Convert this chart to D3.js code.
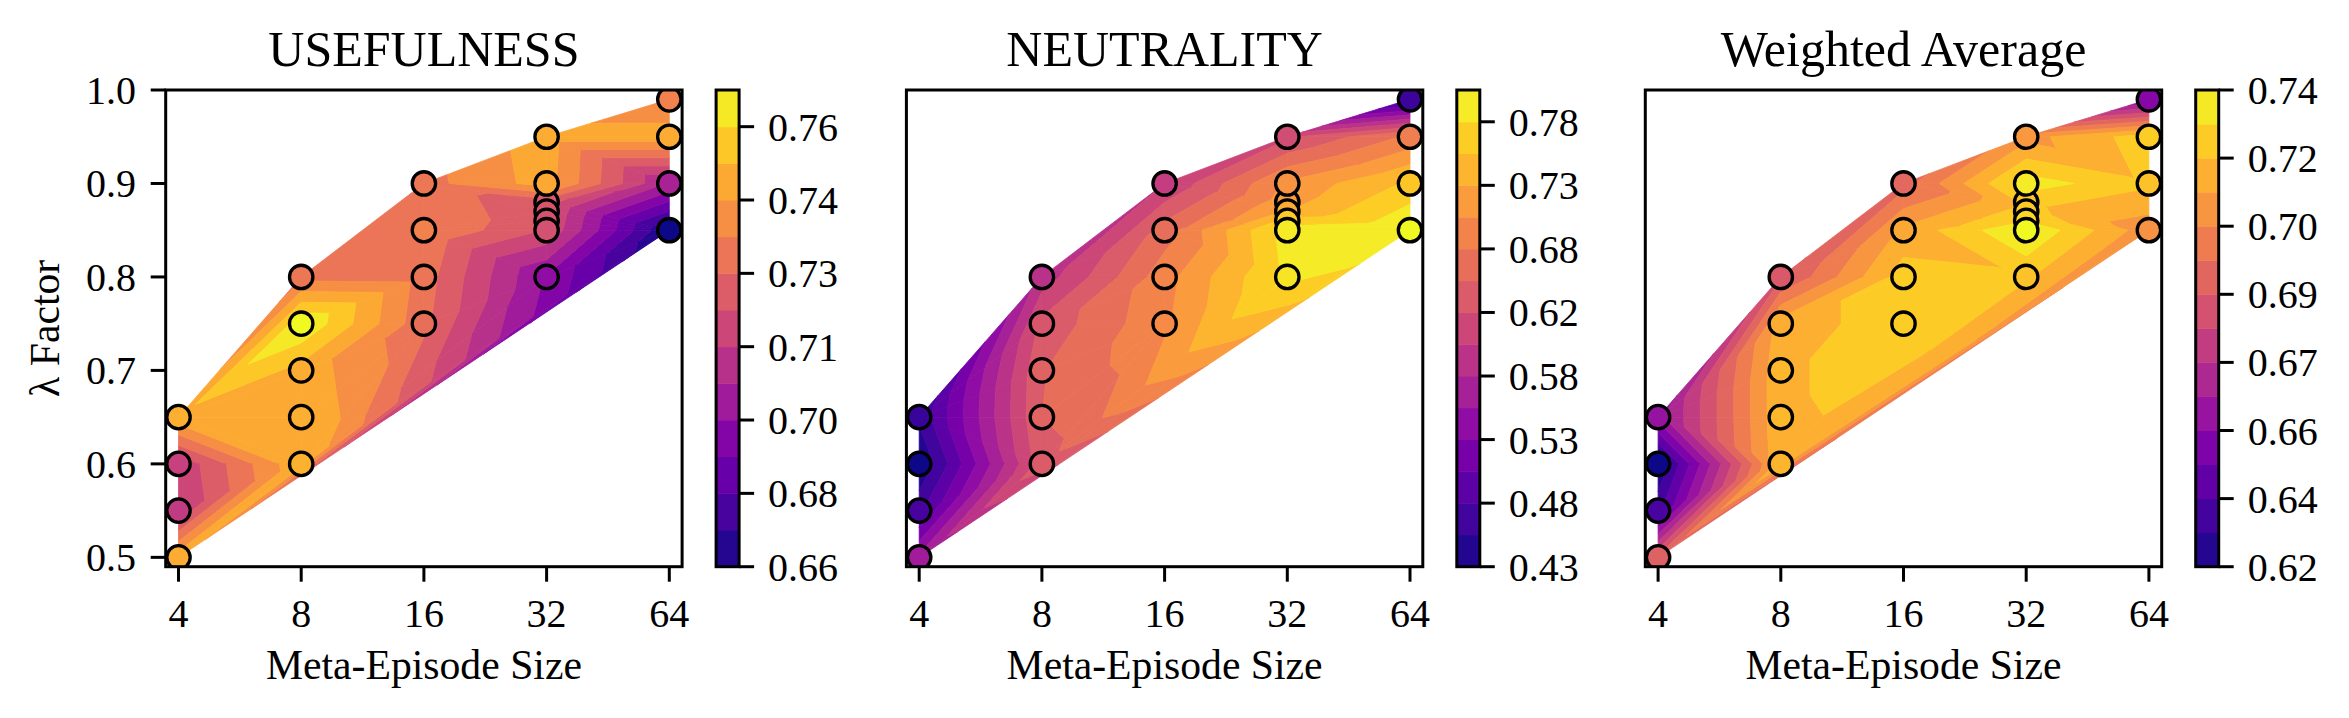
<!DOCTYPE html>
<html>
<head>
<meta charset="utf-8">
<script src="https://cdn.jsdelivr.net/npm/d3@7"></script>
<style>
  body { margin: 0; background: #fff; }
</style>
</head>
<body>
<svg id="chart" width="2349" height="718"></svg>
<script>
// one entry per run: meta-episode size and lambda factor
var sizes   = [4, 4, 4, 4,  8, 8, 8, 8, 8,  16, 16, 16, 16,  32, 32, 32, 32, 32, 32, 32,  64, 64, 64, 64];
var lambdas = [0.50, 0.55, 0.60, 0.65,  0.60, 0.65, 0.70, 0.75, 0.80,  0.75, 0.80, 0.85, 0.90,
               0.80, 0.88, 0.87, 0.86, 0.85, 0.90, 0.95,  0.85, 0.90, 0.95, 0.99];

// scores
var usefulness = [0.750, 0.712, 0.714, 0.751,  0.752, 0.751, 0.750, 0.770, 0.734,  0.731, 0.733, 0.737, 0.734,
                  0.695, 0.724, 0.722, 0.721, 0.720, 0.749, 0.750,  0.663, 0.703, 0.750, 0.737];
var neutrality = [0.556, 0.468, 0.425, 0.455,  0.640, 0.650, 0.648, 0.632, 0.585,  0.695, 0.690, 0.662, 0.600,
                  0.782, 0.715, 0.730, 0.760, 0.787, 0.705, 0.620,  0.800, 0.755, 0.680, 0.458];
var weighted   = [0.690, 0.636, 0.622, 0.659,  0.719, 0.720, 0.720, 0.717, 0.687,  0.726, 0.726, 0.715, 0.693,
                  0.723, 0.724, 0.725, 0.729, 0.738, 0.734, 0.710,  0.708, 0.723, 0.726, 0.654];

var xTicks = [4, 8, 16, 32, 64];
var yTicks = [0.5, 0.6, 0.7, 0.8, 0.9, 1.0];

// colorbar labels (every second contour level)
var cbLabelsU = ["0.66", "0.68", "0.70", "0.71", "0.73", "0.74", "0.76"];
var cbLabelsN = ["0.43", "0.48", "0.53", "0.58", "0.62", "0.68", "0.73", "0.78"];
var cbLabelsW = ["0.62", "0.64", "0.66", "0.67", "0.69", "0.70", "0.72", "0.74"];

var panels = [
  { title: "USEFULNESS",       values: usefulness, nLevels: 14, cbLabels: cbLabelsU },
  { title: "NEUTRALITY",       values: neutrality, nLevels: 16, cbLabels: cbLabelsN },
  { title: "Weighted Average", values: weighted,   nLevels: 15, cbLabels: cbLabelsW }
];

// layout (px)
var axLeft = [165.7, 906.4, 1645.3];
var W = 516.4, TOP = 90, H = 476.7;
var xPad = 0.1043;            // octaves of margin on each side
var font = "'Liberation Serif', 'Times New Roman', serif";

var svg = d3.select("#chart");

// keep the part of a polygon where sign*(v - level) >= 0
function clipBy(poly, level, sign) {
  var out = [];
  for (var i = 0; i < poly.length; i++) {
    var a = poly[i], b = poly[(i + 1) % poly.length];
    var da = sign * (a[2] - level), db = sign * (b[2] - level);
    if (da >= 0) out.push(a);
    if ((da >= 0) !== (db >= 0)) {
      var t = da / (da - db);
      out.push([a[0] + t * (b[0] - a[0]), a[1] + t * (b[1] - a[1]), level]);
    }
  }
  return out;
}

// triangulate once, in (log2 size, lambda) space
var idx = d3.range(sizes.length);
var del = d3.Delaunay.from(idx, function(k){ return Math.log2(sizes[k]); }, function(k){ return lambdas[k]; });
var tris = del.triangles;

panels.forEach(function(p, pi) {
  var L = axLeft[pi];
  var x = d3.scaleLog().base(2)
    .domain([4 / Math.pow(2, xPad), 64 * Math.pow(2, xPad)])
    .range([L, L + W]);
  var y = d3.scaleLinear().domain([0.49, 1.0]).range([TOP + H, TOP]);

  var vmin = d3.min(p.values), vmax = d3.max(p.values);
  var levels = d3.range(p.nLevels).map(function(k){ return vmin + (vmax - vmin) * k / (p.nLevels - 1); });
  var bandColor = function(k){ return d3.interpolatePlasma((k + 0.5) / (p.nLevels - 1)); };
  var pointColor = function(v){ return d3.interpolatePlasma((v - vmin) / (vmax - vmin)); };

  var clipId = "clip" + pi;
  svg.append("clipPath").attr("id", clipId)
    .append("rect").attr("x", L).attr("y", TOP).attr("width", W).attr("height", H);

  var g = svg.append("g").attr("clip-path", "url(#" + clipId + ")");

  // filled contours, band by band inside every triangle
  var gc = g.append("g");
  for (var t = 0; t < tris.length; t += 3) {
    var poly = [tris[t], tris[t + 1], tris[t + 2]].map(function(k){
      return [x(sizes[k]), y(lambdas[k]), p.values[k]];
    });
    for (var k = 0; k < p.nLevels - 1; k++) {
      var piece = clipBy(clipBy(poly, levels[k], 1), levels[k + 1], -1);
      if (piece.length < 3) continue;
      var col = bandColor(k);
      gc.append("path")
        .attr("d", "M" + piece.map(function(q){ return q[0] + "," + q[1]; }).join("L") + "Z")
        .attr("fill", col)
        .attr("stroke", col)
        .attr("stroke-width", 0.8)
        .attr("stroke-linejoin", "round");
    }
  }

  // markers
  g.append("g").selectAll("circle")
    .data(idx)
    .join("circle")
    .attr("cx", function(k){ return x(sizes[k]); })
    .attr("cy", function(k){ return y(lambdas[k]); })
    .attr("r", 11.7)
    .attr("fill", function(k){ return pointColor(p.values[k]); })
    .attr("stroke", "#000")
    .attr("stroke-width", 3.3);

  // frame
  svg.append("rect")
    .attr("x", L).attr("y", TOP).attr("width", W).attr("height", H)
    .attr("fill", "none").attr("stroke", "#000").attr("stroke-width", 3);

  // x ticks
  var gx = svg.append("g");
  xTicks.forEach(function(v) {
    gx.append("line")
      .attr("x1", x(v)).attr("x2", x(v))
      .attr("y1", TOP + H).attr("y2", TOP + H + 15)
      .attr("stroke", "#000").attr("stroke-width", 3);
    gx.append("text")
      .attr("x", x(v)).attr("y", 627)
      .attr("text-anchor", "middle")
      .attr("font-family", font).attr("font-size", 40)
      .text(v);
  });

  svg.append("text")
    .attr("x", L + W / 2).attr("y", 679)
    .attr("text-anchor", "middle")
    .attr("font-family", font).attr("font-size", 41.7)
    .text("Meta-Episode Size");

  svg.append("text")
    .attr("x", L + W / 2).attr("y", 66)
    .attr("text-anchor", "middle")
    .attr("font-family", font).attr("font-size", 50)
    .text(p.title);

  // y axis only on the first panel
  if (pi === 0) {
    yTicks.forEach(function(v) {
      svg.append("line")
        .attr("x1", L - 15).attr("x2", L)
        .attr("y1", y(v)).attr("y2", y(v))
        .attr("stroke", "#000").attr("stroke-width", 3);
      svg.append("text")
        .attr("x", L - 29.6).attr("y", y(v)).attr("dy", "0.35em")
        .attr("text-anchor", "end")
        .attr("font-family", font).attr("font-size", 40)
        .text(v.toFixed(1));
    });
    svg.append("text")
      .attr("transform", "translate(59," + (TOP + H / 2) + ") rotate(-90)")
      .attr("text-anchor", "middle")
      .attr("font-family", font).attr("font-size", 41.7)
      .text("λ Factor");
  }

  // colorbar
  var cbX = L + W + 34, cbW = 23;
  var cy = d3.scaleLinear().domain([vmin, vmax]).range([TOP + H, TOP]);
  var gb = svg.append("g");
  for (var b = 0; b < p.nLevels - 1; b++) {
    gb.append("rect")
      .attr("x", cbX).attr("y", cy(levels[b + 1]))
      .attr("width", cbW).attr("height", cy(levels[b]) - cy(levels[b + 1]) + 0.5)
      .attr("fill", bandColor(b));
  }
  gb.append("rect")
    .attr("x", cbX).attr("y", TOP).attr("width", cbW).attr("height", H)
    .attr("fill", "none").attr("stroke", "#000").attr("stroke-width", 3);
  p.cbLabels.forEach(function(lab, j) {
    var yy = cy(levels[2 * j]);
    gb.append("line")
      .attr("x1", cbX + cbW).attr("x2", cbX + cbW + 15)
      .attr("y1", yy).attr("y2", yy)
      .attr("stroke", "#000").attr("stroke-width", 3);
    gb.append("text")
      .attr("x", cbX + cbW + 29).attr("y", yy).attr("dy", "0.35em")
      .attr("font-family", font).attr("font-size", 40)
      .text(lab);
  });
});
</script>
</body>
</html>
